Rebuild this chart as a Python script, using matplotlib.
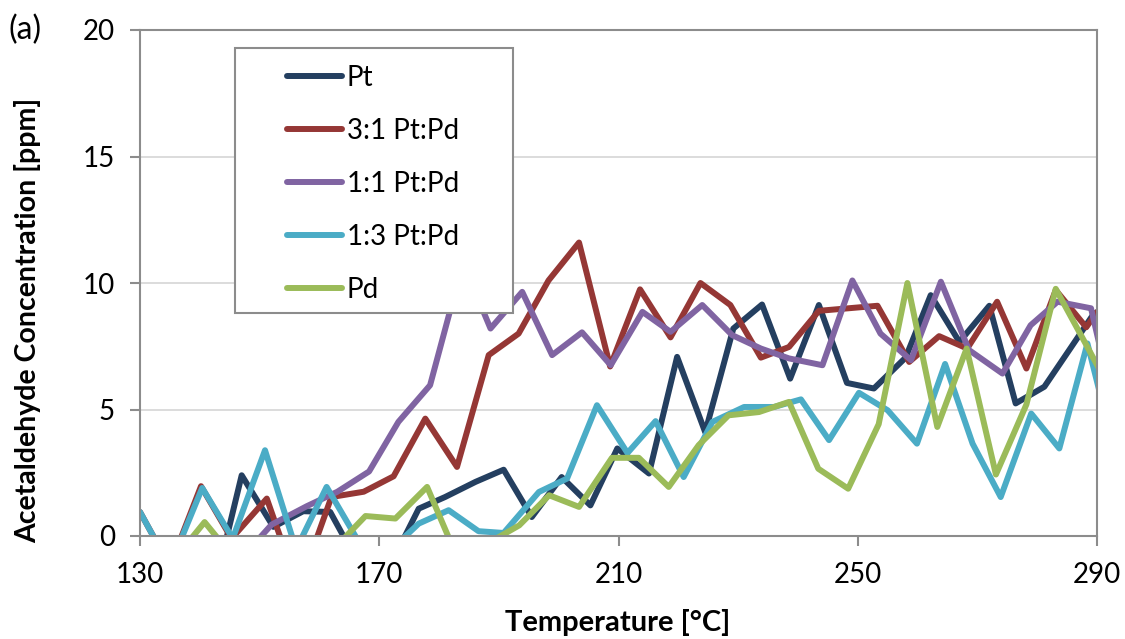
import matplotlib
matplotlib.use("Agg")
import matplotlib.pyplot as plt
from matplotlib.patches import Rectangle

plt.rcParams["font.family"] = ["Lato", "DejaVu Sans"]

# temperatures [degC] and acetaldehyde concentration [ppm] per catalyst
temp_pt = [130, 136, 142, 147.0, 152.3, 157.3, 161.8, 166.5, 171.5, 176.6, 181.0, 186.1, 190.8, 195.5,
           200.5, 205.3, 209.8, 215.1, 219.8, 224.5, 229.2, 234.0, 238.7, 243.5, 248.2, 252.7, 258.0,
           262.2, 267.0, 272.0, 276.4, 281.2, 285.3, 289.3, 290]
conc_pt = [-1.5, -2.0, -2.5, 2.4, 0.36, 0.98, 0.95, -1.08, -1.32, 1.08, 1.54, 2.14, 2.62, 0.75,
           2.33, 1.21, 3.46, 2.47, 7.08, 4.1, 8.2, 9.15, 6.22, 9.13, 6.05, 5.83, 7.05,
           9.52, 7.67, 9.1, 5.24, 5.9, 7.33, 8.73, 8.85]

temp_31 = [130, 135, 140.2, 145.3, 151.2, 156.5, 162.0, 167.4, 172.4, 177.7, 183.0, 188.3, 193.3, 198.3,
           203.4, 208.6, 213.6, 218.7, 223.7, 228.7, 233.8, 238.5, 243.5, 248.4, 253.3, 258.6, 263.6,
           268.3, 273.3, 278.2, 283.1, 288.2, 290]
conc_31 = [0.95, -1.2, 1.97, -0.1, 1.48, -2.1, 1.54, 1.75, 2.36, 4.64, 2.73, 7.15, 8.0, 10.1,
           11.6, 6.7, 9.75, 7.85, 10.0, 9.13, 7.05, 7.47, 8.9, 9.0, 9.1, 6.88, 7.9,
           7.41, 9.26, 6.62, 9.72, 8.25, 8.85]

temp_11 = [130, 135, 140.5, 146.5, 152.0, 157.9, 163.0, 168.3, 173.2, 178.5, 184.0, 188.6, 193.9, 198.9,
           203.9, 208.7, 214.0, 218.7, 224.0, 229.0, 233.8, 238.5, 244.1, 249.1, 253.8, 258.9, 263.9,
           268.6, 274.2, 278.9, 283.4, 289.0, 294]
conc_11 = [-1.5, -2.0, -1.5, -1.0, 0.45, 1.18, 1.75, 2.55, 4.51, 5.96, 10.8, 8.2, 9.65, 7.15,
           8.05, 6.75, 8.86, 8.07, 9.13, 7.94, 7.41, 7.02, 6.75, 10.1, 8.0, 6.95, 10.05,
           7.35, 6.42, 8.33, 9.26, 9.0, 3.9]

temp_13 = [130, 135, 140.4, 145.5, 150.9, 156.1, 161.2, 166.4, 171.5, 176.6, 181.6, 186.6, 190.8, 196.7,
           201.4, 206.4, 211.5, 216.2, 220.9, 225.7, 231.0, 236.0, 240.5, 245.2, 250.2, 255.0, 259.9,
           264.6, 269.2, 273.9, 279.0, 283.7, 288.4, 293.4]
conc_13 = [0.95, -1.2, 1.9, -0.1, 3.39, -0.53, 1.94, -0.16, -0.65, 0.49, 1.02, 0.19, 0.12, 1.74,
           2.27, 5.17, 3.28, 4.54, 2.33, 4.51, 5.1, 5.1, 5.4, 3.79, 5.66, 4.97, 3.65,
           6.8, 3.65, 1.54, 4.84, 3.46, 7.61, 2.9]

temp_pd = [130, 135.8, 140.8, 145.8, 151.5, 157.0, 162.7, 167.7, 172.7, 178.0, 183.2, 188.3, 193.4, 198.4,
           203.4, 208.9, 213.4, 218.4, 223.4, 228.4, 233.5, 238.5, 243.4, 248.4, 253.5, 258.3, 263.3,
           268.2, 273.1, 278.2, 283.1, 288.1, 293.1]
conc_pd = [-1.0, -0.9, 0.55, -0.9, -1.2, -1.0, -0.44, 0.79, 0.69, 1.94, -0.94, -0.27, 0.42, 1.61,
           1.15, 3.09, 3.09, 1.94, 3.59, 4.77, 4.9, 5.3, 2.66, 1.87, 4.42, 10.0, 4.31,
           7.41, 2.43, 5.2, 9.77, 7.6, 5.4]

labels = ["Pt", "3:1 Pt:Pd", "1:1 Pt:Pd", "1:3 Pt:Pd", "Pd"]
colors = ["#243F60", "#953735", "#8064A2", "#4BACC6", "#9BBB59"]
x_ticks = [130, 170, 210, 250, 290]
y_ticks = [0, 5, 10, 15, 20]

series = [(temp_pt, conc_pt), (temp_31, conc_31), (temp_11, conc_11), (temp_13, conc_13), (temp_pd, conc_pd)]

fig = plt.figure(figsize=(11.25, 6.39), dpi=100)
ax = fig.add_axes([140 / 1125, 1 - 536 / 639, 957 / 1125, 506 / 639])

for (t, c), lab, col in zip(series, labels, colors):
    ax.plot(t, c, color=col, lw=4.3, label=lab, solid_joinstyle="round", solid_capstyle="round")

ax.set_xlim(130, 290)
ax.set_ylim(0, 20)
ax.set_xticks(x_ticks)
ax.set_yticks(y_ticks)
ax.yaxis.grid(True, color="#D9D9D9", lw=1.3)
ax.set_axisbelow(True)
for s in ax.spines.values():
    s.set_color("#8C8C8C")
    s.set_linewidth(1.5)
ax.tick_params(axis="both", direction="out", length=7, width=1.5, color="#8C8C8C",
               labelsize=20, labelcolor="black")
ax.tick_params(axis="y", pad=11)
ax.tick_params(axis="x", pad=12)

# legend box
ax.add_patch(Rectangle((0.0993, 0.4407), 0.2905, 0.5237, transform=ax.transAxes,
                       facecolor="white", edgecolor="#8C8C8C", lw=1.5, zorder=5))
leg = ax.legend(loc="upper left", bbox_to_anchor=(0.139, 0.958), frameon=False, fontsize=20,
                handlelength=2.0, handletextpad=0.15, labelspacing=0.97, borderpad=0)
leg.set_zorder(6)
for h in leg.get_lines():
    h.set_linewidth(4.3)

fig.text(28 / 1125, 1 - 320 / 639, "Acetaldehyde Concentration [ppm]", rotation=90,
         ha="center", va="center", fontsize=20.5, fontweight="bold")
fig.text(618 / 1125, 1 - 622 / 639, "Temperature [°C]", ha="center", va="center",
         fontsize=21, fontweight="bold")
fig.text(8 / 1125, 1 - 30 / 639, "(a)", ha="left", va="center", fontsize=23)

fig.savefig("out.png", dpi=100)
